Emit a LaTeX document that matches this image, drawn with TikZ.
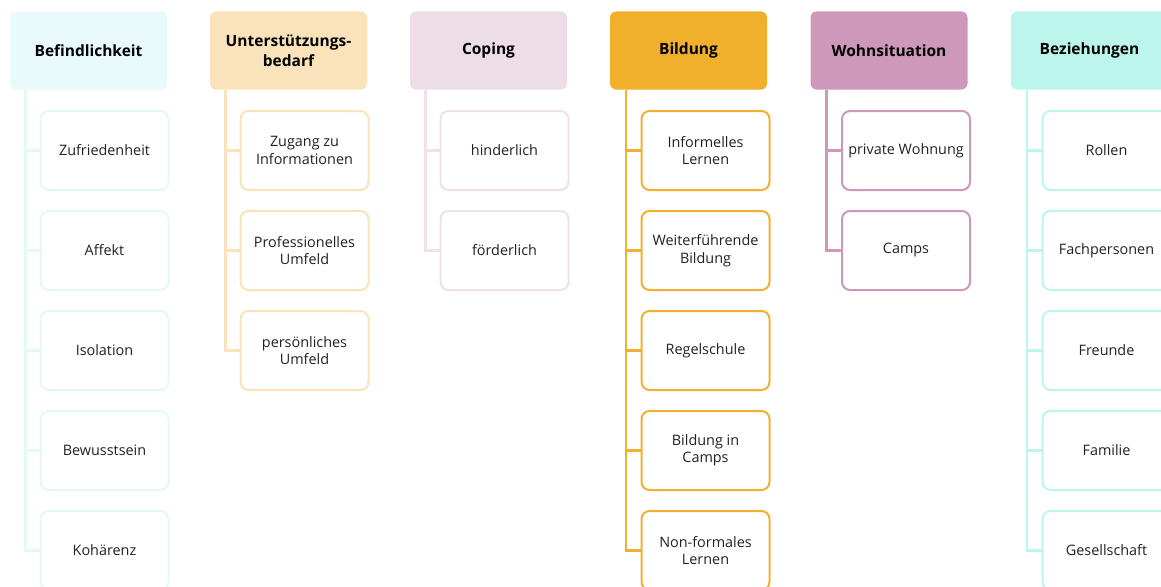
\documentclass[tikz,border=0pt]{standalone}
\usepackage{fontspec}
\setmainfont{Open Sans}
\definecolor{cA}{HTML}{E8FAFB}
\definecolor{cAl}{HTML}{E3F8F8}
\definecolor{cB}{HTML}{FAE3BB}
\definecolor{cBl}{HTML}{FAE3BB}
\definecolor{cC}{HTML}{EDDDE6}
\definecolor{cCl}{HTML}{F0E0E8}
\definecolor{cD}{HTML}{F0B02C}
\definecolor{cDl}{HTML}{F2B032}
\definecolor{cE}{HTML}{CD98B9}
\definecolor{cEl}{HTML}{CD98B9}
\definecolor{cF}{HTML}{BCF5EC}
\definecolor{cFl}{HTML}{BCF5EC}
\definecolor{txt}{HTML}{222222}
\tikzset{
  hdr/.style={rectangle, rounded corners=6pt, minimum width=157pt, minimum height=78pt,
    inner sep=2pt, outer sep=0pt, align=center, font=\fontsize{15.5}{20}\selectfont\bfseries, text=black},
  leaf/.style={rectangle, rounded corners=8pt, minimum width=128pt, minimum height=79pt,
    line width=2pt, fill=white, inner sep=1pt, outer sep=0pt, align=center,
    font=\fontsize{14.4}{17.5}\selectfont, text=txt},
  conn/.style={line width=2.2pt},
}
\begin{document}
\begin{tikzpicture}[x=1pt,y=-1pt]
\useasboundingbox (0,0) rectangle (1161,586);
\clip (0,0) rectangle (1161,586);
% Column 1
\node[hdr, fill=cA] (h1) at (88.5,50.5) {Befindlichkeit};
\node[leaf, draw=cAl] (a1) at (104.5,150.5) {Zufriedenheit};
\node[leaf, draw=cAl] (a2) at (104.5,250.5) {Affekt};
\node[leaf, draw=cAl] (a3) at (104.5,350.5) {Isolation};
\node[leaf, draw=cAl] (a4) at (104.5,450.5) {Bewusstsein};
\node[leaf, draw=cAl] (a5) at (104.5,550.5) {Kohärenz};
\foreach \c in {a1,a2,a3,a4,a5}
  \draw[conn, draw=cAl] ([xshift=15.5pt]h1.south west) |- (\c.west);
% Column 2
\node[hdr, fill=cB] (h2) at (288.5,50.5) {Unterstützungs-\\bedarf};
\node[leaf, draw=cBl] (b1) at (304.5,150.5) {Zugang zu\\Informationen};
\node[leaf, draw=cBl] (b2) at (304.5,250.5) {Professionelles\\Umfeld};
\node[leaf, draw=cBl] (b3) at (304.5,350.5) {persönliches\\Umfeld};
\foreach \c in {b1,b2,b3}
  \draw[conn, draw=cBl] ([xshift=15.5pt]h2.south west) |- (\c.west);
% Column 3
\node[hdr, fill=cC] (h3) at (488.5,50.5) {Coping};
\node[leaf, draw=cCl] (c1) at (504.5,150.5) {hinderlich};
\node[leaf, draw=cCl] (c2) at (504.5,250.5) {förderlich};
\foreach \c in {c1,c2}
  \draw[conn, draw=cCl] ([xshift=15.5pt]h3.south west) |- (\c.west);
% Column 4
\node[hdr, fill=cD] (h4) at (688.5,50.5) {Bildung};
\node[leaf, draw=cDl] (d1) at (705.5,150.5) {Informelles\\Lernen};
\node[leaf, draw=cDl] (d2) at (705.5,250.5) {Weiterführende\\Bildung};
\node[leaf, draw=cDl] (d3) at (705.5,350.5) {Regelschule};
\node[leaf, draw=cDl] (d4) at (705.5,450.5) {Bildung in\\Camps};
\node[leaf, draw=cDl] (d5) at (705.5,550.5) {Non-formales\\Lernen};
\foreach \c in {d1,d2,d3,d4,d5}
  \draw[conn, draw=cDl] ([xshift=16pt]h4.south west) |- (\c.west);
% Column 5
\node[hdr, fill=cE] (h5) at (889,50.5) {Wohnsituation};
\node[leaf, draw=cEl] (e1) at (906,150.5) {private Wohnung};
\node[leaf, draw=cEl] (e2) at (906,250.5) {Camps};
\foreach \c in {e1,e2}
  \draw[conn, draw=cEl] ([xshift=16pt]h5.south west) |- (\c.west);
% Column 6
\node[hdr, fill=cF] (h6) at (1089.5,50.5) {Beziehungen};
\node[leaf, draw=cFl] (f1) at (1106.5,150.5) {Rollen};
\node[leaf, draw=cFl] (f2) at (1106.5,250.5) {Fachpersonen};
\node[leaf, draw=cFl] (f3) at (1106.5,350.5) {Freunde};
\node[leaf, draw=cFl] (f4) at (1106.5,450.5) {Familie};
\node[leaf, draw=cFl] (f5) at (1106.5,550.5) {Gesellschaft};
\foreach \c in {f1,f2,f3,f4,f5}
  \draw[conn, draw=cFl] ([xshift=16pt]h6.south west) |- (\c.west);
\end{tikzpicture}
\end{document}
